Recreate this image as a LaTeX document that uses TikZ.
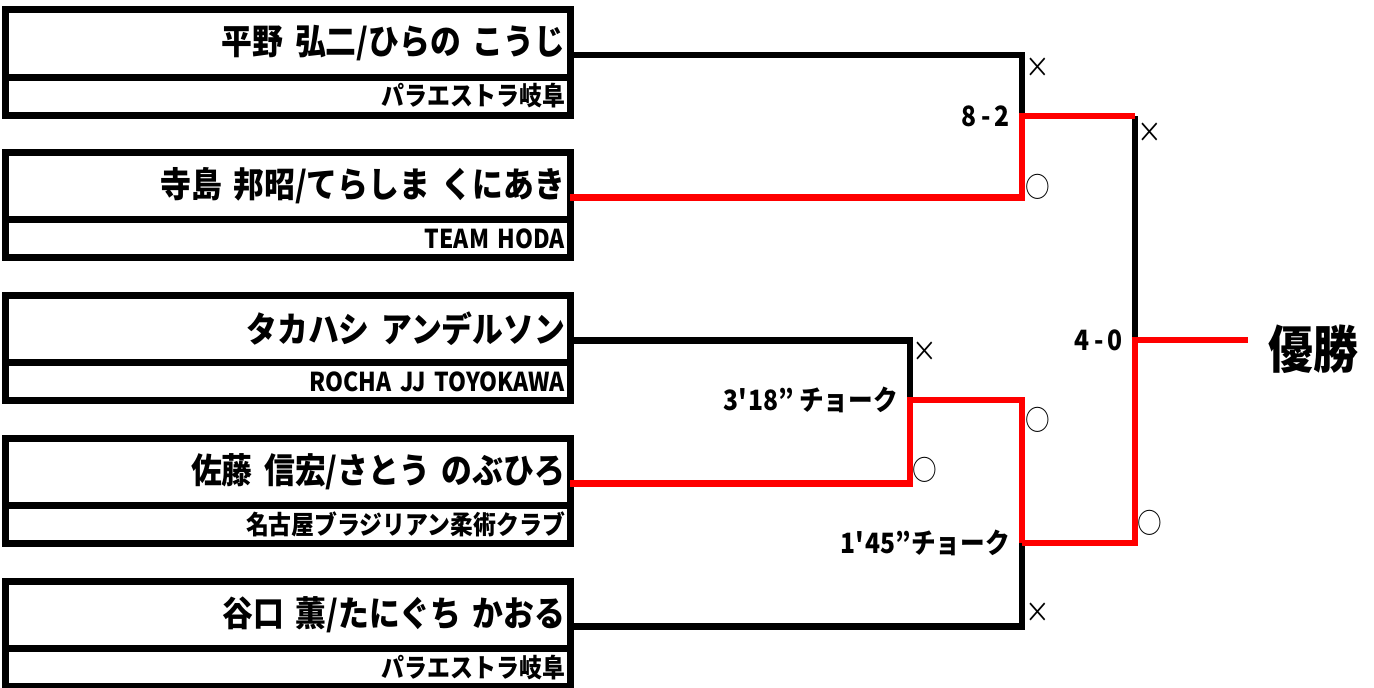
\documentclass[tikz,border=0pt]{standalone}
\usepackage{fontspec}
\setmainfont{Noto Sans CJK JP}[FakeStretch=0.88]
\usetikzlibrary{positioning}
\tikzset{
  namebox/.style={draw, line width=7pt, outer sep=0pt, anchor=north west,
    minimum height=67.5pt, text width=554.5pt, inner xsep=5pt, align=right,
    font=\fontsize{35}{35}\selectfont\bfseries},
  clubbox/.style={draw, line width=7pt, outer sep=0pt, anchor=north,
    minimum height=38pt, text width=554.5pt, inner xsep=5pt, align=right,
    font=\fontsize{26}{26}\selectfont\bfseries},
  lose/.style={draw=black, line width=6.5pt, line join=miter},
  win/.style={draw=red, line width=6.5pt, line join=miter},
  score/.style={inner sep=0pt, font=\fontsize{28}{28}\selectfont\bfseries},
  resmark/.style={inner sep=0pt, font=\fontsize{28}{28}\selectfont}
}
\begin{document}
\begin{tikzpicture}[x=1pt,y=-1pt]
\useasboundingbox (0,0) rectangle (1374,688);
% entrants
\node[namebox] (n1) at (5.5,9.5) {平野 弘二/ひらの こうじ};
\node[clubbox] (c1) at (n1.south) {パラエストラ岐阜};
\node[namebox] (n2) at (5.5,152.4) {寺島 邦昭/てらしま くにあき};
\node[clubbox] (c2) at (n2.south) {TEAM HODA};
\node[namebox] (n3) at (5.5,295.2) {タカハシ アンデルソン};
\node[clubbox] (c3) at (n3.south) {ROCHA JJ TOYOKAWA};
\node[namebox] (n4) at (5.5,438.1) {佐藤 信宏/さとう のぶひろ};
\node[clubbox] (c4) at (n4.south) {名古屋ブラジリアン柔術クラブ};
\node[namebox] (n5) at (5.5,581) {谷口 薫/たにぐち かおる};
\node[clubbox] (c5) at (n5.south) {パラエストラ岐阜};
% joints
\coordinate (s1) at (1022,116);
\coordinate (q2) at (910,400);
\coordinate (s2) at (1022,543);
\coordinate (f) at (1135,340);
\node[anchor=west, inner xsep=20pt, inner ysep=0pt, font=\fontsize{51}{51}\selectfont\bfseries] (champ) at (1248,349) {優勝};
% brackets
\draw[lose] ([yshift=-11.5pt]n1.east) -| (s1);
\draw[lose] ([yshift=-11.5pt]n3.east) -| (q2);
\draw[lose] ([yshift=-11.5pt]n5.east) -| (s2);
\draw[lose] (s1 -| f) -- (f);
\draw[win] ([yshift=-11.5pt]n2.east) -| (s1) -- (s1 -| f);
\draw[win] ([yshift=-11.5pt]n4.east) -| (q2) -- (q2 -| s2) -- (s2);
\draw[win] (s2) -- (f |- s2) -- (f) -- (f -| champ.west);
% scores
\node[score, anchor=east, left=12pt of s1] (r1) {8\hspace{0.15em}-\hspace{0.15em}2};
\node[score, anchor=east, left=12pt of q2] (r2) {3\textquotesingle 18” チョーク};
\node[score, anchor=east, left=12pt of s2] (r3) {1\textquotesingle 45”チョーク};
\node[score, anchor=east, left=12pt of f] (r4) {4\hspace{0.15em}-\hspace{0.15em}0};
% results
\node[resmark] (x1) at (1038,68) {×};
\node[resmark] (o1) at (1038,187) {○};
\node[resmark] (x2) at (925,352) {×};
\node[resmark] (o2) at (925,470) {○};
\node[resmark] (o3) at (1038,420) {○};
\node[resmark] (x3) at (1038,613) {×};
\node[resmark] (x4) at (1150,133) {×};
\node[resmark] (o4) at (1150,523) {○};
\end{tikzpicture}
\end{document}
